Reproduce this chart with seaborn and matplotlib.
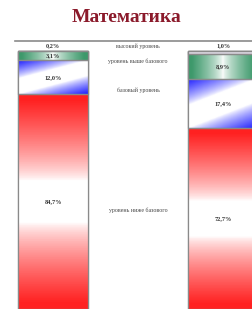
import numpy as np
import pandas as pd
import matplotlib.pyplot as plt
import seaborn as sns

# share of pupils per level, two bars (left / right)
bars = ['left', 'right']
levels = ['высокий уровень', 'уровень выше базового', 'базовый уровень', 'уровень ниже базового']
high = [0.2, 1.0]
above = [3.1, 8.9]
basic = [12.0, 17.4]
below = [84.7, 72.7]

YTOP, YBOT = -3.5, 91.2

sns.set_theme(style='white')
plt.rcParams['font.family'] = ['DejaVu Sans']

fig = plt.figure(figsize=(2.53, 3.09), dpi=100)
ax = fig.add_axes([15 / 253, 0, 1 - 15 / 253, 268 / 309])

df = pd.DataFrame({'bar': bars, 'high': high, 'above': above, 'basic': basic, 'below': below})
cols = ['high', 'above', 'basic', 'below']
cum = df[cols].cumsum(axis=1)

# draw cumulative bars from the largest so that each one covers the rest
for c in cols[::-1]:
    sns.barplot(data=df.assign(v=cum[c]), x='bar', y='v', ax=ax, width=0.41,
                color='white', edgecolor='#8a8a8a', linewidth=0.9)


def grad(kind, n=120, m=60):
    yy, xx = np.mgrid[0:1:n * 1j, 0:1:m * 1j]
    w = np.ones(3)
    if kind == 'high':
        c = np.array([0.86, 0.84, 0.88])
        f = np.ones_like(xx)
    elif kind == 'above':
        c = np.array([0.24, 0.60, 0.42])
        f = np.clip(np.abs(xx - 0.5) * 2 * 1.1, 0, 1) ** 0.7
    elif kind == 'basic':
        c = np.array([0.12, 0.12, 1.0])
        d = 0.35 * xx + 0.65 * yy
        f = np.clip((np.abs(d - 0.5) * 2 - 0.3) / 0.7, 0, 1) ** 0.8
    else:
        c = np.array([1.0, 0.13, 0.13])
        f = np.clip((np.abs(yy - 0.5) * 2 - 0.2) / 0.75, 0, 1) ** 0.75
    return w + (c - w) * f[..., None]


patches = ax.patches
nb = len(bars)
for li, c in enumerate(cols[::-1]):
    k = cols.index(c)
    for bi in range(nb):
        p = patches[li * nb + bi]
        x0, x1 = p.get_x(), p.get_x() + p.get_width()
        top = 0 if k == 0 else cum[cols[k - 1]][bi]
        bot = min(cum[c][bi], YBOT) if c != 'below' else YBOT
        im = ax.imshow(grad(c), extent=(x0, x1, bot, top), aspect='auto',
                       origin='upper', zorder=p.get_zorder() + 0.5 + li)
        im.set_clip_path(p)
        edge = plt.Rectangle((x0, top), x1 - x0, bot - top, fill=False,
                             edgecolor='#8a8a8a', linewidth=0.9, zorder=20)
        ax.add_patch(edge)

# value labels and level names
mids = []
for k, c in enumerate(cols):
    centers = []
    for bi in range(nb):
        top = 0 if k == 0 else cum[cols[k - 1]][bi]
        bot = min(cum[c][bi], YBOT)
        y = -1.8 if c == 'high' else (top + bot) / 2
        centers.append(y)
        ax.text(bi, y, f'{df[c][bi]:.1f}%'.replace('.', ','), ha='center', va='center',
                fontsize=4.5, fontweight='bold', color='#333333', zorder=30,
                family='Liberation Serif')
    mids.append(np.mean(centers))

for name, y in zip(levels, mids):
    ax.text(0.5, y, name, ha='center', va='center', fontsize=4.2,
            color='#444444', family='Liberation Serif', zorder=30)

ax.set_xlim(-0.224, 1.176)
ax.set_ylim(YBOT, YTOP)
ax.set_xlabel('')
ax.set_ylabel('')
ax.set_xticks([])
ax.set_yticks([])
for s in ['left', 'right', 'bottom']:
    ax.spines[s].set_visible(False)
ax.spines['top'].set_color('#8a8a8a')
ax.spines['top'].set_linewidth(1.2)

fig.text(0.5, 1 - 18 / 309, 'Математика', ha='center', va='center', fontsize=14,
         fontweight='bold', color='#8b1a2b', family='Liberation Serif')

fig.savefig('out.png', dpi=100)
